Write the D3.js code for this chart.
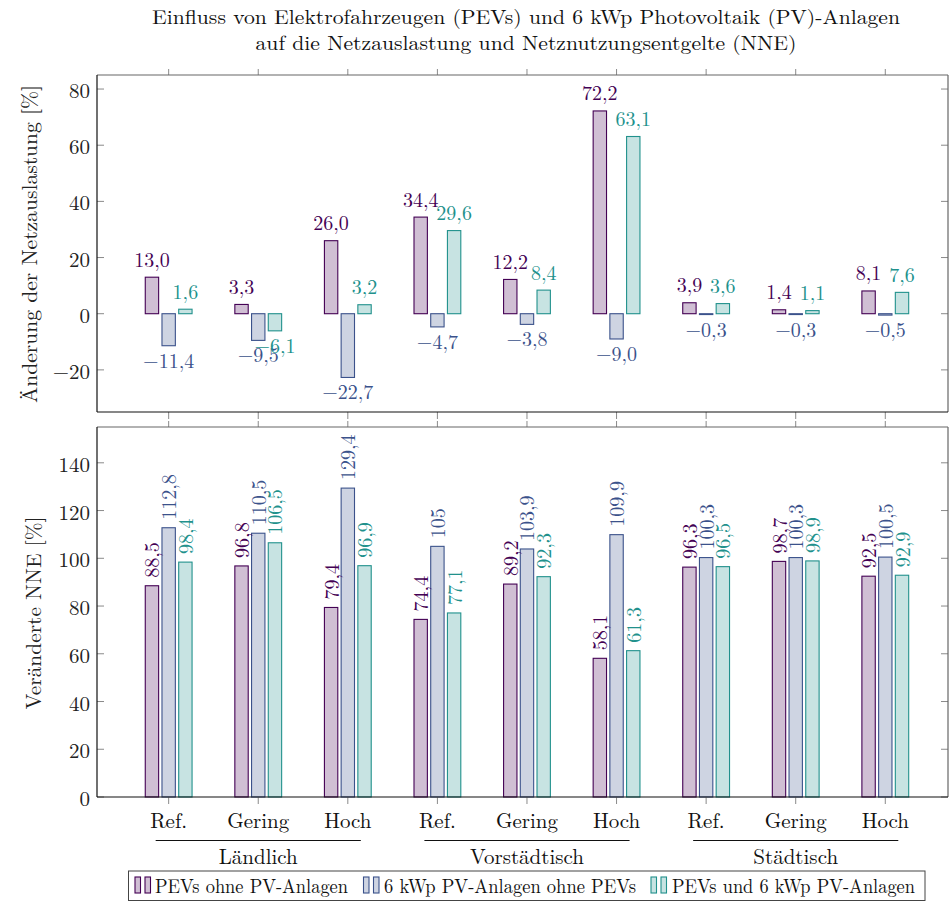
<!DOCTYPE html>
<html><head><meta charset="utf-8">
<script src="https://cdn.jsdelivr.net/npm/d3@7"></script>
<style>
body{margin:0;background:#fff}
</style>
</head><body>
<svg id="c" width="949" height="901" font-family="'Latin Modern Roman', 'CMU Serif', 'Liberation Serif', 'DejaVu Serif', 'Noto Serif', 'Tinos', 'FreeSerif', 'Nimbus Roman', 'TeX Gyre Termes', 'Times New Roman', serif"></svg>
<script>
const titleLines = ["Einfluss von Elektrofahrzeugen (PEVs) und 6 kWp Photovoltaik (PV)-Anlagen",
                    "auf die Netzauslastung und Netznutzungsentgelte (NNE)"];
const categories = ["Ref.","Gering","Hoch","Ref.","Gering","Hoch","Ref.","Gering","Hoch"];
const groups = ["Ländlich","Vorstädtisch","Städtisch"];
const seriesNames = ["PEVs ohne PV-Anlagen","6 kWp PV-Anlagen ohne PEVs","PEVs und 6 kWp PV-Anlagen"];
const seriesColors = ["#440154","#3b528b","#21918c"];

const loadPEV  = [13.0, 3.3, 26.0, 34.4, 12.2, 72.2, 3.9, 1.4, 8.1];
const loadPV   = [-11.4, -9.5, -22.7, -4.7, -3.8, -9.0, -0.3, -0.3, -0.5];
const loadBoth = [1.6, -6.1, 3.2, 29.6, 8.4, 63.1, 3.6, 1.1, 7.6];

const nnePEV  = [88.5, 96.8, 79.4, 74.4, 89.2, 58.1, 96.3, 98.7, 92.5];
const nnePV   = [112.8, 110.5, 129.4, 105, 103.9, 109.9, 100.3, 100.3, 100.5];
const nneBoth = [98.4, 106.5, 96.9, 77.1, 92.3, 61.3, 96.5, 98.9, 92.9];

const loadTicks = [-20, 0, 20, 40, 60, 80];
const nneTicks = [0, 20, 40, 60, 80, 100, 120, 140];
const loadTitle = "Änderung der Netzauslastung [%]";
const nneTitle = "Veränderte NNE [%]";

const svg = d3.select("#c");
const L = 97, R = 948;
const x = d3.scaleLinear().domain([-0.8, 8.7]).range([L, R]);
const off = d3.scaleBand().domain([0,1,2]).range([-23.4, 23.4]).paddingInner(0.2);
const fill = c => { const k = d3.rgb(c); return d3.rgb(k.r*0.25+191, k.g*0.25+191, k.b*0.25+191).formatHex(); };
const fmtFixed = v => d3.format(".1f")(v).replace(".", ",");
const fmtPlain = v => String(v).replace(".", ",");

svg.selectAll("text.title").data(titleLines).join("text")
  .attr("class","title")
  .attr("x", 526).attr("y", (d,i) => 24 + i*26)
  .attr("text-anchor","middle").attr("font-size", 20).attr("fill","#111")
  .attr("textLength", (d,i) => i ? 541 : 748).attr("lengthAdjust","spacingAndGlyphs")
  .text(d => d);

function panel(top, bottom, domain, ticks, data, title, titleX, titleY, titleLen, mode) {
  const y = d3.scaleLinear().domain(domain).range([bottom, top]);
  const g = svg.append("g");
  data.forEach((vals, s) => {
    g.selectAll(null).data(vals).join("rect")
      .attr("x", (d,i) => x(i) + off(s))
      .attr("width", off.bandwidth())
      .attr("y", d => Math.min(y(d), y(0)))
      .attr("height", d => Math.abs(y(d) - y(0)))
      .attr("fill", fill(seriesColors[s]))
      .attr("stroke", seriesColors[s]).attr("stroke-width", 1.1);
  });
  data.forEach((vals, s) => {
    const cx = i => x(i) + off(s) + off.bandwidth()/2;
    if (mode === "h") {
      g.selectAll(null).data(vals).join("text")
        .attr("x", (d,i) => cx(i))
        .attr("y", d => d >= 0 ? y(d) - 10.5 : y(d) + 22)
        .attr("text-anchor","middle").attr("font-size", 20)
        .attr("fill", seriesColors[s])
        .text(d => fmtFixed(d));
    } else {
      g.selectAll(null).data(vals).join("text")
        .attr("transform", (d,i) => `translate(${cx(i)-1},${y(d)-8}) rotate(-90)`)
        .attr("text-anchor","start").attr("dominant-baseline","central")
        .attr("font-size", 20)
        .attr("fill", seriesColors[s])
        .text(d => fmtPlain(d));
    }
  });
  const tickCol = "#8a8a8a";
  g.selectAll(null).data(ticks).join("line")
    .attr("x1", L).attr("x2", L + 7).attr("y1", d => y(d)).attr("y2", d => y(d))
    .attr("stroke", tickCol);
  g.selectAll(null).data(ticks).join("line")
    .attr("x1", R).attr("x2", R - 7).attr("y1", d => y(d)).attr("y2", d => y(d))
    .attr("stroke", tickCol);
  const idx = d3.range(categories.length);
  g.selectAll(null).data(idx).join("line")
    .attr("x1", d => x(d)).attr("x2", d => x(d)).attr("y1", top).attr("y2", top - 6)
    .attr("stroke", tickCol);
  g.selectAll(null).data(idx).join("line")
    .attr("x1", d => x(d)).attr("x2", d => x(d)).attr("y1", bottom).attr("y2", bottom + 7)
    .attr("stroke", tickCol);
  g.append("line").attr("x1",L).attr("x2",R).attr("y1",top).attr("y2",top).attr("stroke","#666").attr("stroke-width",1.2);
  g.append("line").attr("x1",R).attr("x2",R).attr("y1",top).attr("y2",bottom).attr("stroke","#666").attr("stroke-width",1.2);
  g.append("line").attr("x1",L).attr("x2",R).attr("y1",bottom).attr("y2",bottom).attr("stroke","#111").attr("stroke-width",1.2);
  g.append("line").attr("x1",L).attr("x2",L).attr("y1",top).attr("y2",bottom).attr("stroke","#111").attr("stroke-width",1.2);
  g.selectAll(null).data(ticks).join("text")
    .attr("x", 90).attr("y", d => y(d)).attr("dominant-baseline","central")
    .attr("text-anchor","end").attr("font-size", 21).attr("fill","#222")
    .text(d => d3.format("d")(d));
  g.append("text")
    .attr("transform", `translate(${titleX},${titleY}) rotate(-90)`)
    .attr("text-anchor","middle").attr("dominant-baseline","central")
    .attr("font-size", 21).attr("fill","#222")
    .attr("textLength", titleLen).attr("lengthAdjust","spacingAndGlyphs")
    .text(title);
  return y;
}

panel(75, 412, [-35, 85], loadTicks, [loadPEV, loadPV, loadBoth], loadTitle, 28, 244, 318, "h");
panel(427, 797, [0, 155], nneTicks, [nnePEV, nnePV, nneBoth], nneTitle, 32, 613, 193, "v");

svg.selectAll("text.cat").data(categories).join("text")
  .attr("class","cat").attr("x", (d,i) => x(i)).attr("y", 828)
  .attr("text-anchor","middle").attr("font-size", 21).attr("fill","#111")
  .text(d => d);
groups.forEach((gname, k) => {
  svg.append("line")
    .attr("x1", x(3*k) - 13).attr("x2", x(3*k+2) + 13)
    .attr("y1", 840.5).attr("y2", 840.5).attr("stroke","#111").attr("stroke-width",1.2);
  svg.append("text").attr("x", x(3*k+1)).attr("y", 863.5)
    .attr("text-anchor","middle").attr("font-size", 21).attr("fill","#111").text(gname);
});

svg.append("rect").attr("x",128.5).attr("y",871).attr("width",796.5).attr("height",29.5)
  .attr("fill","#fff").attr("stroke","#444").attr("stroke-width",1);
const legX = [135, 363.5, 651];
const legTextX = [155, 384, 672];
const legLen = [193, 252, 243];
seriesNames.forEach((nm, s) => {
  [0, 10].forEach(dx => {
    svg.append("rect").attr("x", legX[s] + dx).attr("y", 877).attr("width", 5.5).attr("height", 16)
      .attr("fill", fill(seriesColors[s])).attr("stroke", seriesColors[s]).attr("stroke-width", 1.1);
  });
  svg.append("text").attr("x", legTextX[s]).attr("y", 893)
    .attr("font-size", 20).attr("fill","#111")
    .attr("textLength", legLen[s]).attr("lengthAdjust","spacingAndGlyphs")
    .text(nm);
});
</script>
</body></html>
